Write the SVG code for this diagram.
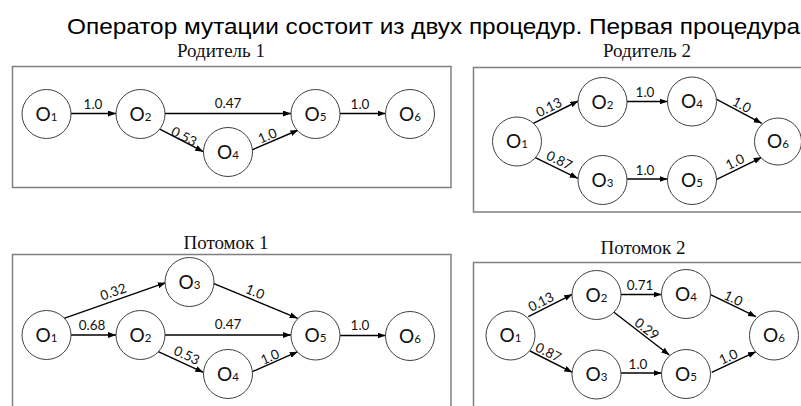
<svg xmlns="http://www.w3.org/2000/svg" width="801" height="406" viewBox="0 0 801 406">
<style>
.bg{fill:#fff}
.frame{fill:none;stroke:#7f7f7f;stroke-width:1.5}
.node circle{fill:#fff;stroke:#404040;stroke-width:1}
.n{font-family:Lato,"Open Sans",sans-serif;font-size:19px;text-anchor:middle;fill:#111}
.s{font-size:11.5px}
.e{stroke:#000;stroke-width:1.4;fill:none;marker-end:url(#ah)}
.l{font-family:Lato,"Open Sans",sans-serif;font-size:13.5px;text-anchor:middle;fill:#111}
.t{font-family:"Liberation Serif","Times New Roman",serif;font-size:19px;text-anchor:middle;fill:#111}
.h{font-family:"Liberation Sans",Arial,sans-serif;font-size:22px;fill:#000}
</style>
<defs>
<marker id="ah" markerUnits="userSpaceOnUse" markerWidth="9" markerHeight="7" refX="8" refY="3" orient="auto">
<path d="M0,0 L8,3 L0,6 z" fill="#000"/>
</marker>
</defs>
<rect class="bg" width="801" height="406"/>
<text class="h" x="67" y="34" textLength="733" lengthAdjust="spacingAndGlyphs">Оператор мутации состоит из двух процедур. Первая процедура</text>

<g id="titles">
<text class="t" x="221" y="57">Родитель 1</text>
<text class="t" x="647" y="57">Родитель 2</text>
<text class="t" x="226" y="249">Потомок 1</text>
<text class="t" x="643" y="254">Потомок 2</text>
</g>

<g id="frames">
<rect class="frame" x="12.5" y="66.5" width="438.5" height="121"/>
<rect class="frame" x="473.5" y="67.5" width="335" height="144.5"/>
<rect class="frame" x="12.5" y="254.5" width="438.5" height="170"/>
<rect class="frame" x="473.5" y="262.5" width="335" height="170"/>
</g>

<g id="connectors">
<!-- Parent 1 -->
<line class="e" x1="71" y1="113.5" x2="116" y2="113.5"/>
<line class="e" x1="165" y1="113.5" x2="291" y2="113.5"/>
<line class="e" x1="158.3" y1="128.3" x2="203.3" y2="151.7"/>
<line class="e" x1="251.7" y1="150" x2="298.3" y2="130"/>
<line class="e" x1="340" y1="113.5" x2="385.5" y2="113.5"/>
<!-- Parent 2 -->
<line class="e" x1="533.3" y1="123.3" x2="578.3" y2="101"/>
<line class="e" x1="533.3" y1="156.7" x2="577.7" y2="178.3"/>
<line class="e" x1="627" y1="101.5" x2="667.5" y2="101.5"/>
<line class="e" x1="627" y1="179" x2="667.5" y2="179"/>
<line class="e" x1="716.7" y1="99.3" x2="761.7" y2="123.3"/>
<line class="e" x1="716.7" y1="179.3" x2="761.7" y2="157.3"/>
<!-- Child 1 -->
<line class="e" x1="64" y1="318.3" x2="165.7" y2="282.7"/>
<line class="e" x1="71" y1="335" x2="116" y2="335"/>
<line class="e" x1="165" y1="335" x2="291" y2="335"/>
<line class="e" x1="158.3" y1="351.7" x2="203.3" y2="372.3"/>
<line class="e" x1="252.3" y1="371.7" x2="297.7" y2="351.7"/>
<line class="e" x1="213.3" y1="283.3" x2="297.7" y2="318.3"/>
<line class="e" x1="340" y1="335.5" x2="385.5" y2="335.5"/>
<!-- Child 2 -->
<line class="e" x1="528.3" y1="316.7" x2="572.3" y2="294.3"/>
<line class="e" x1="530" y1="351" x2="572.3" y2="372.3"/>
<line class="e" x1="621" y1="294.5" x2="661.5" y2="294.5"/>
<line class="e" x1="613.3" y1="311.7" x2="669.3" y2="355"/>
<line class="e" x1="621" y1="373" x2="661.5" y2="373"/>
<line class="e" x1="710" y1="294.3" x2="756" y2="316.7"/>
<line class="e" x1="711.7" y1="372.3" x2="756" y2="351.7"/>

<g id="edge-labels">
<text class="l" x="93" y="109">1.0</text>
<text class="l" x="228" y="108">0.47</text>
<text class="l" transform="translate(184,136.7) rotate(27.5)" y="4.5">0.53</text>
<text class="l" transform="translate(267.5,136) rotate(-23.2)" y="4.5">1.0</text>
<text class="l" x="360" y="109">1.0</text>

<text class="l" transform="translate(549,107.5) rotate(-26.4)" y="4.5">0.13</text>
<text class="l" transform="translate(559.3,160.5) rotate(25.9)" y="4.5">0.87</text>
<text class="l" x="645" y="97">1.0</text>
<text class="l" x="645" y="175">1.0</text>
<text class="l" transform="translate(741.7,105) rotate(28.1)" y="4.5">1.0</text>
<text class="l" transform="translate(735,162) rotate(-26.1)" y="4.5">1.0</text>

<text class="l" transform="translate(113.3,292) rotate(-19.3)" y="4.5">0.32</text>
<text class="l" x="92" y="329.5">0.68</text>
<text class="l" x="228" y="329">0.47</text>
<text class="l" transform="translate(186.7,355.5) rotate(24.6)" y="4.5">0.53</text>
<text class="l" transform="translate(270,357) rotate(-23.8)" y="4.5">1.0</text>
<text class="l" transform="translate(255,292) rotate(22.5)" y="4.5">1.0</text>
<text class="l" x="360" y="329.5">1.0</text>

<text class="l" transform="translate(541,302) rotate(-27)" y="4.5">0.13</text>
<text class="l" transform="translate(548.3,352.5) rotate(26.7)" y="4.5">0.87</text>
<text class="l" x="640" y="290">0.71</text>
<text class="l" transform="translate(646.7,329) rotate(37.7)" y="4.5">0.29</text>
<text class="l" x="638" y="369">1.0</text>
<text class="l" transform="translate(733.3,298.5) rotate(26)" y="4.5">1.0</text>
<text class="l" transform="translate(728.3,357) rotate(-24.9)" y="4.5">1.0</text>
</g>
</g>

<!-- Parent 1 nodes -->
<g id="p1-o1" class="node"><circle cx="46.5" cy="114" r="24.5"/><text class="n" x="46.5" y="120.5">O<tspan class="s">1</tspan></text></g>
<g id="p1-o2" class="node"><circle cx="140.5" cy="114" r="24.5"/><text class="n" x="140.5" y="120.5">O<tspan class="s">2</tspan></text></g>
<g id="p1-o4" class="node"><circle cx="228" cy="152" r="24.5"/><text class="n" x="228" y="158.5">O<tspan class="s">4</tspan></text></g>
<g id="p1-o5" class="node"><circle cx="315.5" cy="114" r="24.5"/><text class="n" x="315.5" y="120.5">O<tspan class="s">5</tspan></text></g>
<g id="p1-o6" class="node"><circle cx="410" cy="114" r="24.5"/><text class="n" x="410" y="120.5">O<tspan class="s">6</tspan></text></g>

<!-- Parent 2 nodes -->
<g id="p2-o1" class="node"><circle cx="517" cy="141.5" r="24.5"/><text class="n" x="517" y="148">O<tspan class="s">1</tspan></text></g>
<g id="p2-o2" class="node"><circle cx="602.5" cy="102" r="24.5"/><text class="n" x="602.5" y="108.5">O<tspan class="s">2</tspan></text></g>
<g id="p2-o3" class="node"><circle cx="602.5" cy="180" r="24.5"/><text class="n" x="602.5" y="186.5">O<tspan class="s">3</tspan></text></g>
<g id="p2-o4" class="node"><circle cx="692" cy="101.5" r="24.5"/><text class="n" x="692" y="108">O<tspan class="s">4</tspan></text></g>
<g id="p2-o5" class="node"><circle cx="692" cy="180" r="24.5"/><text class="n" x="692" y="186.5">O<tspan class="s">5</tspan></text></g>
<g id="p2-o6" class="node"><circle cx="778" cy="141.5" r="23.5"/><text class="n" x="778" y="148">O<tspan class="s">6</tspan></text></g>

<!-- Child 1 nodes -->
<g id="c1-o1" class="node"><circle cx="46.5" cy="335" r="24.5"/><text class="n" x="46.5" y="341.5">O<tspan class="s">1</tspan></text></g>
<g id="c1-o2" class="node"><circle cx="140.5" cy="335" r="24.5"/><text class="n" x="140.5" y="341.5">O<tspan class="s">2</tspan></text></g>
<g id="c1-o3" class="node"><circle cx="189.5" cy="282" r="24.5"/><text class="n" x="189.5" y="288.5">O<tspan class="s">3</tspan></text></g>
<g id="c1-o4" class="node"><circle cx="228" cy="374" r="24.5"/><text class="n" x="228" y="380.5">O<tspan class="s">4</tspan></text></g>
<g id="c1-o5" class="node"><circle cx="315.5" cy="335.5" r="24.5"/><text class="n" x="315.5" y="342">O<tspan class="s">5</tspan></text></g>
<g id="c1-o6" class="node"><circle cx="410" cy="336" r="24.5"/><text class="n" x="410" y="342.5">O<tspan class="s">6</tspan></text></g>

<!-- Child 2 nodes -->
<g id="c2-o1" class="node"><circle cx="510.5" cy="335.5" r="24.5"/><text class="n" x="510.5" y="342">O<tspan class="s">1</tspan></text></g>
<g id="c2-o2" class="node"><circle cx="596.5" cy="295" r="24.5"/><text class="n" x="596.5" y="301.5">O<tspan class="s">2</tspan></text></g>
<g id="c2-o3" class="node"><circle cx="596.5" cy="374.5" r="24.5"/><text class="n" x="596.5" y="381">O<tspan class="s">3</tspan></text></g>
<g id="c2-o4" class="node"><circle cx="686" cy="294" r="24.5"/><text class="n" x="686" y="300.5">O<tspan class="s">4</tspan></text></g>
<g id="c2-o5" class="node"><circle cx="686" cy="374" r="24.5"/><text class="n" x="686" y="380.5">O<tspan class="s">5</tspan></text></g>
<g id="c2-o6" class="node"><circle cx="774" cy="335.5" r="24.5"/><text class="n" x="774" y="342">O<tspan class="s">6</tspan></text></g>
</svg>
